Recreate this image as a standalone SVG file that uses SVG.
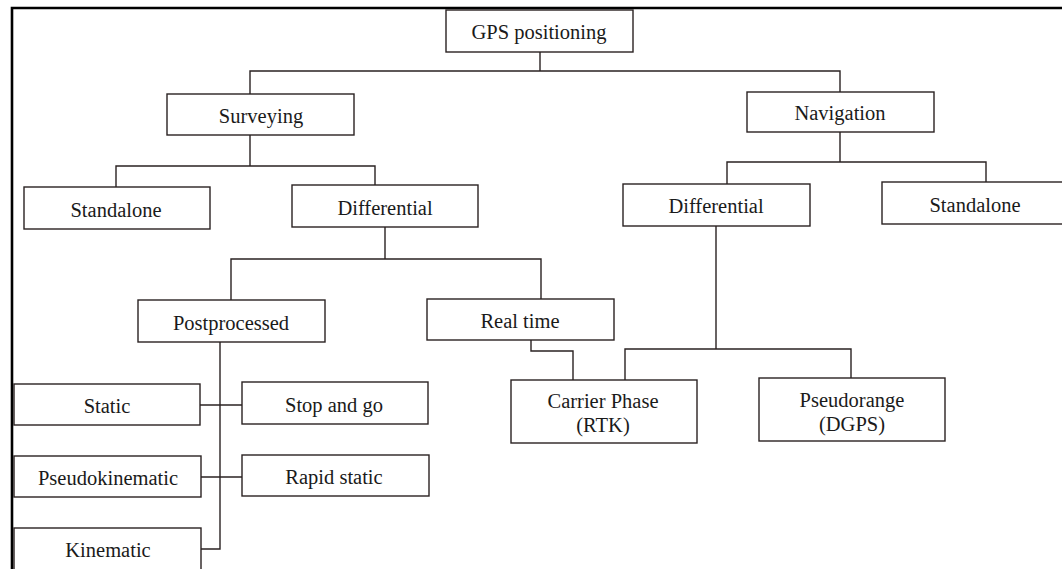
<svg xmlns="http://www.w3.org/2000/svg" width="1062" height="569" viewBox="0 0 1062 569">
<style>
.box{fill:#fff;stroke:#2a2222;stroke-width:1.4}
.lbl{font-family:"Liberation Serif","Times New Roman",serif;font-size:20.5px;fill:#1a1a1a;text-anchor:middle;dominant-baseline:central}
.con{fill:none;stroke:#2a2222;stroke-width:1.4}
</style>
<rect x="0" y="0" width="1062" height="569" fill="#fff"/>
<path d="M12 575 V8 H1070" fill="none" stroke="#000" stroke-width="2.6"/>
<g id="connectors">
<path class="con" d="M540 52 V71 M250 94 V71 H840 V92"/>
<path class="con" d="M250 135 V166 M116 187 V166 H375 V185"/>
<path class="con" d="M385 227 V259 M231 300 V259 H541 V299"/>
<path class="con" d="M840 132 V162 M727 184 V162 H986 V182"/>
<path class="con" d="M716 226 V349 M625 380 V349 H851 V378"/>
<path class="con" d="M531 340 V351 H573 V380"/>
<path class="con" d="M220 342 V549 H201"/>
<path class="con" d="M200 405 H242"/>
<path class="con" d="M201 477 H242"/>
</g>
<g id="gps"><rect class="box" x="446" y="10" width="187" height="42"/><text class="lbl" x="539" y="32">GPS positioning</text></g>
<g id="surveying"><rect class="box" x="167" y="94" width="187" height="41"/><text class="lbl" x="261" y="116">Surveying</text></g>
<g id="navigation"><rect class="box" x="747" y="92" width="187" height="40"/><text class="lbl" x="840" y="113">Navigation</text></g>
<g id="standalone-s"><rect class="box" x="24" y="187" width="186" height="42"/><text class="lbl" x="116" y="210">Standalone</text></g>
<g id="differential-s"><rect class="box" x="292" y="185" width="186" height="42"/><text class="lbl" x="385" y="208">Differential</text></g>
<g id="differential-n"><rect class="box" x="623" y="184" width="187" height="42"/><text class="lbl" x="716" y="206">Differential</text></g>
<g id="standalone-n"><rect class="box" x="882" y="182" width="190" height="42"/><text class="lbl" x="975" y="205">Standalone</text></g>
<g id="postprocessed"><rect class="box" x="138" y="300" width="187" height="42"/><text class="lbl" x="231" y="323">Postprocessed</text></g>
<g id="realtime"><rect class="box" x="427" y="299" width="187" height="41"/><text class="lbl" x="520" y="321">Real time</text></g>
<g id="carrier"><rect class="box" x="511" y="380" width="186" height="63"/><text class="lbl" x="603" y="401">Carrier Phase</text><text class="lbl" x="603" y="425">(RTK)</text></g>
<g id="pseudorange"><rect class="box" x="759" y="378" width="186" height="63"/><text class="lbl" x="852" y="400">Pseudorange</text><text class="lbl" x="852" y="424">(DGPS)</text></g>
<g id="static"><rect class="box" x="14" y="384" width="186" height="41"/><text class="lbl" x="107" y="406">Static</text></g>
<g id="stopgo"><rect class="box" x="242" y="382" width="186" height="42"/><text class="lbl" x="334" y="405">Stop and go</text></g>
<g id="pseudokinematic"><rect class="box" x="14" y="456" width="187" height="41"/><text class="lbl" x="108" y="478">Pseudokinematic</text></g>
<g id="rapidstatic"><rect class="box" x="242" y="455" width="187" height="41"/><text class="lbl" x="334" y="477">Rapid static</text></g>
<g id="kinematic"><rect class="box" x="14" y="528" width="187" height="50"/><text class="lbl" x="108" y="550">Kinematic</text></g>
</svg>
